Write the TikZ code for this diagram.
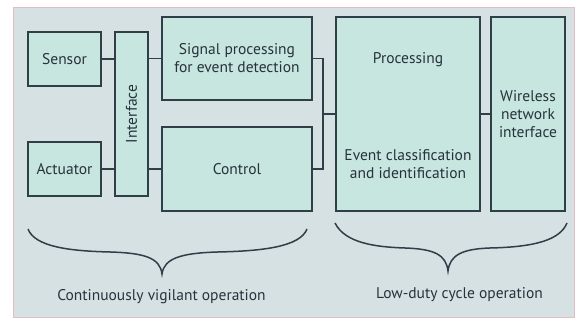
\documentclass[tikz,border=0pt]{standalone}
\usepackage{fontspec}
\setmainfont{PT Sans}
\usepackage{tikz}
\usetikzlibrary{positioning}
\definecolor{panelbg}{HTML}{D5E1E3}
\definecolor{boxfill}{HTML}{C6E6DF}
\definecolor{boxline}{HTML}{303E48}
\definecolor{txt}{HTML}{27323C}
\definecolor{edge}{HTML}{E6BCC4}

\begin{document}
\begin{tikzpicture}[x=1pt, y=-1pt,
    block/.style={draw=boxline, fill=boxfill, line width=1.7pt, inner sep=2pt,
        align=center, text=txt, font=\fontsize{15.5}{18}\selectfont},
    wire/.style={draw=boxline, line width=1.7pt},
    curly/.style={draw=boxline, line width=1.5pt},
    caption/.style={text=txt, font=\fontsize{15.5}{18}\selectfont}]
    \useasboundingbox (0,0) rectangle (576,320);
    \filldraw[fill=panelbg, draw=edge, line width=0.6pt] (13,7) rectangle (574,317);

    % Continuously vigilant part
    \node[block, minimum width=73pt, minimum height=54pt] (sensor) at (64.5,59) {Sensor};
    \node[block, minimum width=73pt, minimum height=54pt] (actuator) at (64.5,169) {Actuator};
    \node[block, minimum width=33pt, minimum height=164pt] (iface) at (131.5,114) {};
    \node[caption, rotate=90] (ifacetxt) at (iface.center) {Interface};
    \node[block, minimum width=150pt, minimum height=83pt] (signal) at (237,58.5) {Signal processing\\for event detection};
    \node[block, minimum width=150pt, minimum height=84pt] (control) at (237,169) {Control};

    % Low-duty cycle part
    \node[block, minimum width=144pt, minimum height=194pt] (proc) at (408,114) {};
    \node[caption] (proctop) at (408,60) {Processing};
    \node[caption, align=center] (procbot) at (408,164) {Event classification\\and identification};
    \node[block, minimum width=74pt, minimum height=194pt] (wireless) at (528,114) {Wireless\\network\\interface};

    % Wires
    \draw[wire] (sensor.east) -- (sensor.east -| iface.west);
    \draw[wire] (actuator.east) -- (actuator.east -| iface.west);
    \draw[wire] (iface.east |- signal.west) -- (signal.west);
    \draw[wire] (iface.east |- control.west) -- (control.west);
    \coordinate (bus) at (323,114);
    \draw[wire] (signal.east) -| (bus) |- (control.east);
    \draw[wire] (bus) -- (proc.west);
    \draw[wire] (proc.east) -- (wireless.west);

    % Braces
    \draw[curly] (28,229) .. controls (35,247) and (70,251) .. (110,252)
        .. controls (145,253) and (160,258) .. (162,274)
        .. controls (164,258) and (182,253) .. (218,252)
        .. controls (262,251) and (300,247) .. (307,229);
    \draw[curly] (335,223) .. controls (345,243) and (375,247) .. (405,248)
        .. controls (435,249) and (446,255) .. (448,271)
        .. controls (450,255) and (462,249) .. (490,248)
        .. controls (535,247) and (560,240) .. (567,223);
    \node[caption] (vigil) at (161.5,297) {Continuously vigilant operation};
    \node[caption] (lowduty) at (459.5,295) {Low-duty cycle operation};
\end{tikzpicture}
\end{document}
